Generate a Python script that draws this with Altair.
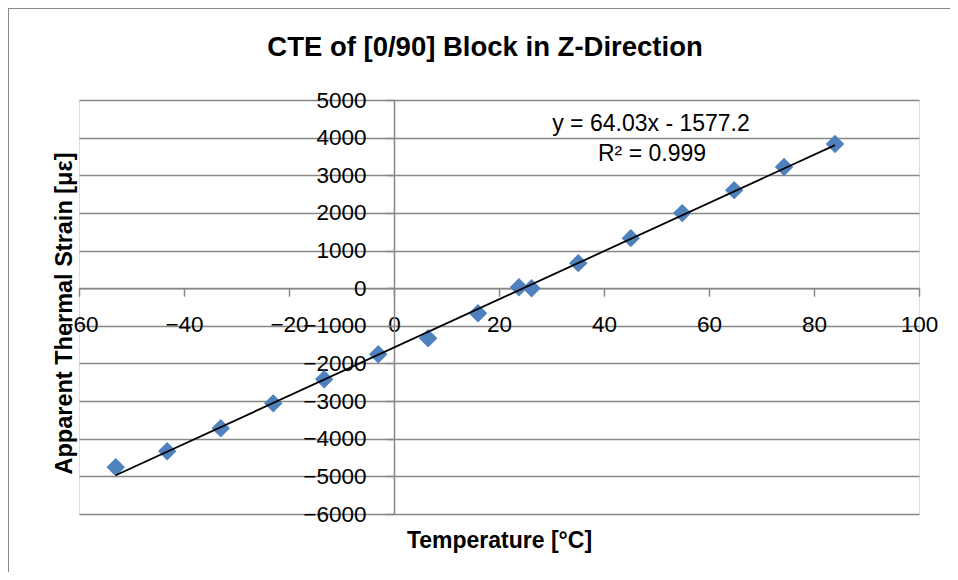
import altair as alt
import pandas as pd

# Data
temperature = [-53.0, -43.2, -33.0, -23.0, -13.3, -3.0, 6.5, 16.0, 23.8, 26.2,
               35.1, 45.1, 54.9, 64.8, 74.3, 84.0]
strain = [-4760, -4335, -3720, -3060, -2420, -1755, -1330, -665, 25, 0,
          665, 1330, 1995, 2605, 3220, 3830]
slope = 64.03
intercept = -1577.2
eq_line1 = "y = 64.03x - 1577.2"
eq_line2 = "R² = 0.999"
x_ticks = [-60, -40, -20, 0, 20, 40, 60, 80, 100]
y_ticks = [-6000, -5000, -4000, -3000, -2000, -1000, 0, 1000, 2000, 3000, 4000, 5000]

W, H = 840, 414
X_DOM = [-60, 100]
Y_DOM = [-6000, 5000]
FONT = "Liberation Sans, Arial, sans-serif"
GRID = "#888888"

df = pd.DataFrame({"t": temperature, "s": strain})
trend = pd.DataFrame({"t": [min(temperature), max(temperature)]})

# pixel position of the zero crossings
x0_px = W * (0 - X_DOM[0]) / (X_DOM[1] - X_DOM[0])
y0_from_bottom = H * (0 - Y_DOM[0]) / (Y_DOM[1] - Y_DOM[0])

xscale = alt.Scale(domain=X_DOM, nice=False, zero=False)
yscale = alt.Scale(domain=Y_DOM, nice=False, zero=False)

x_axis = alt.Axis(
    values=x_ticks, grid=False, offset=-y0_from_bottom, orient="bottom", format="d",
    domainColor=GRID, domainWidth=1.5, tickColor=GRID, tickWidth=1.5, tickSize=8,
    labelPadding=17, labelFont=FONT, labelFontSize=22.5, labelColor="black",
    labelFlush=False, labelOverlap=False, labelBound=False,
    title="Temperature [°C]", titleFont=FONT, titleFontSize=23, titleFontWeight="bold",
    titleColor="black", titleX=W / 2, titleY=259, titleBaseline="alphabetic",
    titleAnchor="middle",
)
y_axis = alt.Axis(
    values=y_ticks, grid=True, gridColor=GRID, gridWidth=1.5, offset=-x0_px, orient="left",
    format="d",
    domainColor=GRID, domainWidth=1.5, tickColor=GRID, tickWidth=1.5, tickSize=8,
    labelPadding=20, labelFont=FONT, labelFontSize=22.5, labelColor="black",
    labelFlush=False, labelOverlap=False, labelBound=False,
    title="Apparent Thermal Strain [με]", titleFont=FONT, titleFontSize=23.5,
    titleFontWeight="bold", titleColor="black", titleX=-323, titleY=213,
    titleBaseline="alphabetic", titleAngle=-90, titleAlign="center",
)

points = alt.Chart(df).mark_point(
    shape="diamond", filled=True, size=340, color="#4F81BD", opacity=1
).encode(
    x=alt.X("t:Q", scale=xscale, axis=x_axis),
    y=alt.Y("s:Q", scale=yscale, axis=y_axis),
)

line = alt.Chart(trend).transform_calculate(
    s=f"{slope} * datum.t + ({intercept})"
).mark_line(color="black", strokeWidth=1.8).encode(
    x=alt.X("t:Q", scale=xscale, axis=x_axis),
    y=alt.Y("s:Q", scale=yscale, axis=y_axis),
)

eq1 = alt.Chart(pd.DataFrame({"txt": [eq_line1]})).mark_text(
    font=FONT, fontSize=23, color="black", align="center", baseline="middle"
).encode(text="txt:N", x=alt.value(572), y=alt.value(24))

eq2 = alt.Chart(pd.DataFrame({"txt": [eq_line2]})).mark_text(
    font=FONT, fontSize=23, color="black", align="center", baseline="middle"
).encode(text="txt:N", x=alt.value(573), y=alt.value(54))

border_top = alt.Chart(pd.DataFrame({"a": [0]})).mark_rule(
    stroke="#888888", strokeWidth=2
).encode(x=alt.value(-71), x2=alt.value(W + 200), y=alt.value(-92))

border_left = alt.Chart(pd.DataFrame({"a": [0]})).mark_rule(
    stroke="#888888", strokeWidth=2
).encode(x=alt.value(-71), y=alt.value(-92), y2=alt.value(H + 200))

chart = alt.layer(border_top, border_left, points, line, eq1, eq2).properties(
    width=W, height=H,
    title=alt.TitleParams(
        "CTE of [0/90] Block in Z-Direction", font=FONT, fontSize=27.5, fontWeight="bold",
        color="black", anchor="middle", frame="group", dx=-14, dy=76, offset=0,
        baseline="alphabetic",
    ),
    autosize=alt.AutoSizeParams(type="none"),
    padding={"left": 71, "top": 92, "right": 31, "bottom": 58},
).configure_view(strokeOpacity=0, strokeWidth=0).configure(background="white")

chart.save("out.html", embed_options={"renderer": "svg", "actions": False})
